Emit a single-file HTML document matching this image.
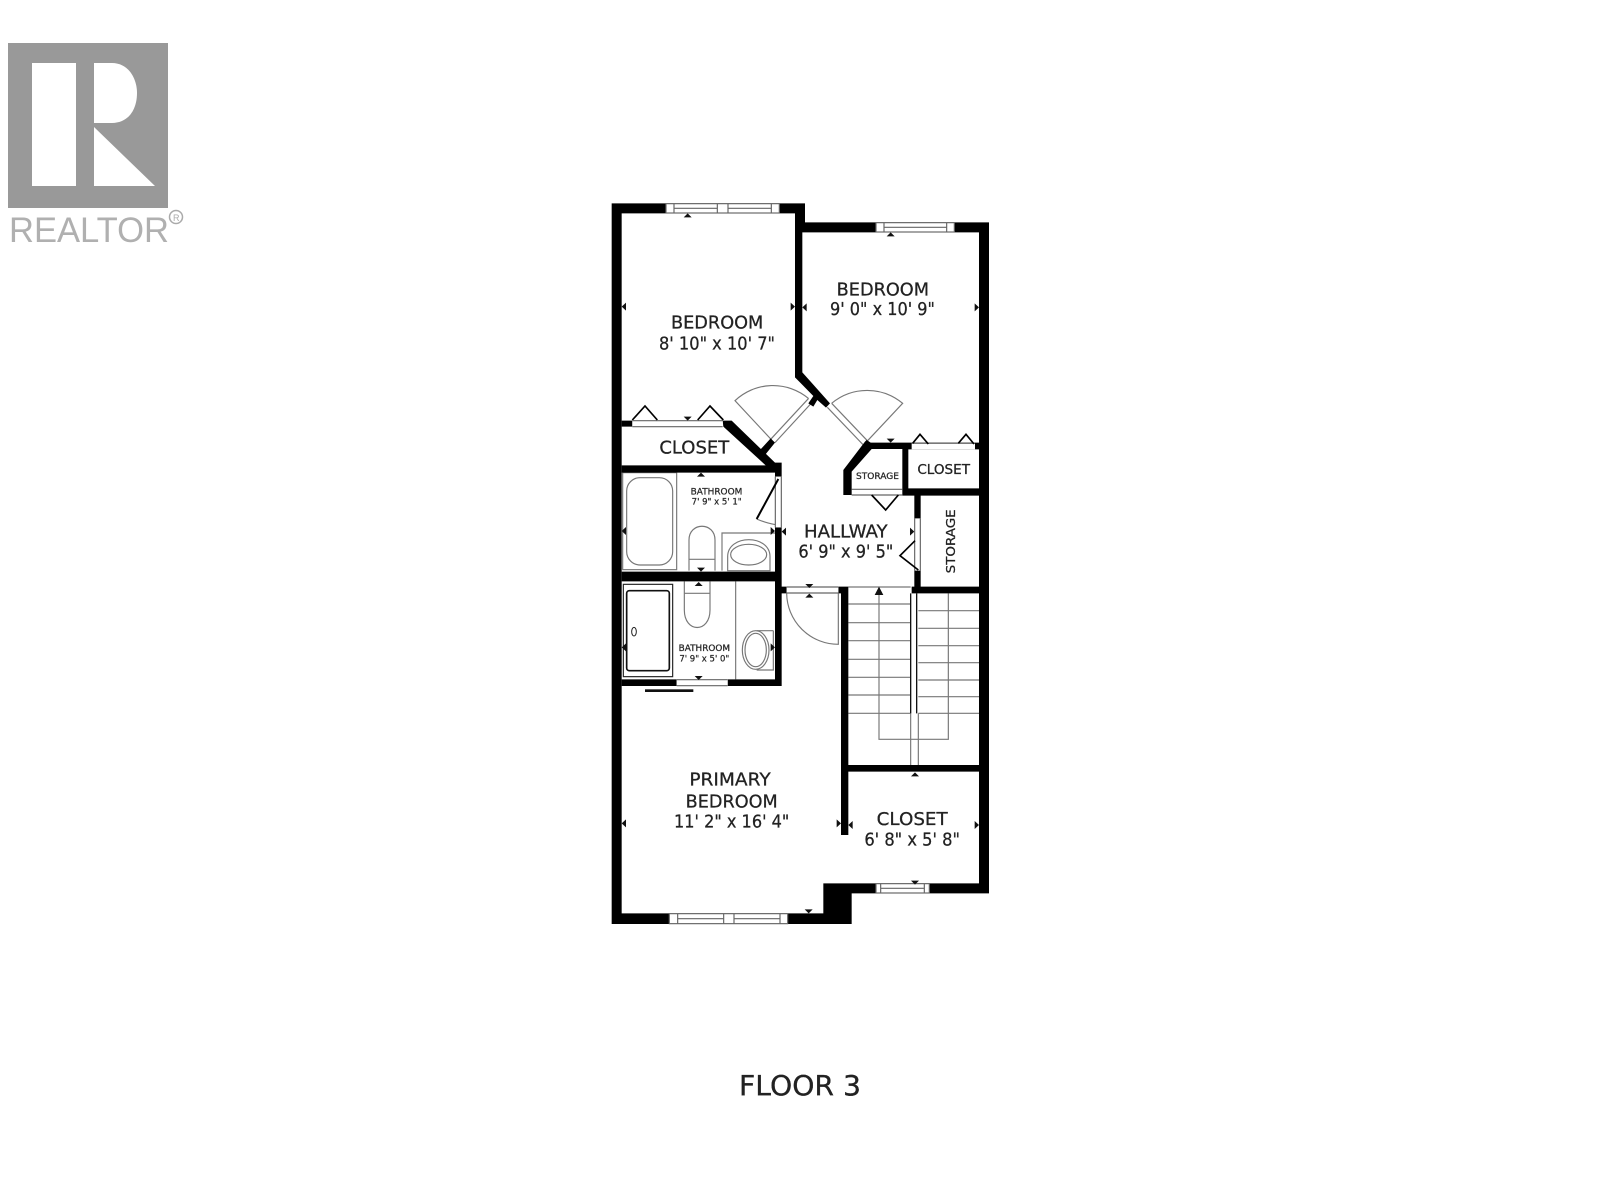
<!DOCTYPE html>
<html>
<head>
<meta charset="utf-8">
<style>
html,body{margin:0;padding:0;background:#fff;width:1600px;height:1200px;overflow:hidden}
svg{display:block;filter:blur(.35px)}
text{font-family:"DejaVu Sans","Liberation Sans",sans-serif;fill:#222}
</style>
</head>
<body>
<svg width="1600" height="1200" viewBox="0 0 1600 1200" xmlns="http://www.w3.org/2000/svg">
<rect width="1600" height="1200" fill="#fff"/>

<!-- logo -->
<rect x="8" y="43" width="160" height="165" fill="#999"/>
<rect x="32" y="63" width="44" height="123" fill="#fff"/>
<path d="M94 63H112C128 63 137 78 137 93C137 110 128 123 112 123H94Z" fill="#fff"/>
<path d="M94 127L155 186H94Z" fill="#fff"/>
<text x="9" y="242" font-size="35" textLength="160" lengthAdjust="spacingAndGlyphs" style="font-family:'Liberation Sans',sans-serif;fill:#b0b0b0">REALTOR</text>
<circle cx="176" cy="217" r="6.5" fill="none" stroke="#aaa" stroke-width="1.5"/>
<text x="173" y="221" font-size="9" style="font-family:'Liberation Sans',sans-serif;fill:#aaa">R</text>

<g transform="translate(600,190) scale(.33333)">
<!-- fixtures and thin lines -->
<g fill="none" stroke="#777" stroke-width="3.5">
  <!-- doors -->
  <path d="M515 750L405 632A166 166 0 0 1 625 625"/>
  <path d="M800 755L908 640A166 166 0 0 0 695 640"/>
  <path d="M560 1210A155 155 0 0 0 715 1363V1210"/>
  <path d="M470 987Q500 1000 527 1004"/>
  <path d="M626 625L512 748M640 633L525 758"/>
  <path d="M682 652L790 765M695 640L802 752"/>
  <!-- tub -->
  <rect x="68" y="848" width="162" height="291"/>
  <rect x="80" y="863" width="138" height="262" rx="40" ry="40"/>
  <!-- toilet 1 -->
  <path d="M267 1142V1050C267 995 345 995 345 1050V1142M267 1108H345"/>
  <!-- sink 1 -->
  <path d="M366 1142V1029H525"/>
  <path d="M383 1142V1100C383 1032 510 1032 510 1100V1142Z"/>
  <ellipse cx="446" cy="1094" rx="54" ry="31"/>
  <!-- toilet 2 -->
  <path d="M253 1174V1260C253 1330 330 1330 330 1260V1174M253 1210H330"/>
  <!-- divider -->
  <path d="M407 1174V1468"/>
  <!-- sink 2 -->
  <path d="M520 1322H470M520 1322V1440H470"/>
  <ellipse cx="467" cy="1380" rx="40" ry="58"/>
  <ellipse cx="467" cy="1380" rx="32" ry="50"/>
  <!-- stairs -->
  <path d="M745 1191H932"/>
  <path d="M745 1242H932M745 1298H932M745 1352H932M745 1408H932M745 1462H932M745 1515H932M745 1570H932"/>
  <path d="M955 1262H1137M955 1315H1137M955 1367H1137M955 1418H1137M955 1470H1137M955 1520H1137M955 1570H1137"/>
  <path d="M837 1210V1648H1045V1210"/>
  <path d="M932 1570V1725M955 1570V1725"/>
</g>
<rect x="70" y="1183" width="148" height="277" fill="none" stroke="#222" stroke-width="3.5"/>
<rect x="80" y="1202" width="128" height="240" rx="8" fill="none" stroke="#111" stroke-width="5"/>
<ellipse cx="102" cy="1325" rx="7" ry="13" fill="none" stroke="#222" stroke-width="3"/>
<path d="M932 1210V1570M950 1210V1570" stroke="#111" stroke-width="4" fill="none"/>
<rect x="135" y="1498" width="145" height="8" fill="#111"/>

<!-- outer walls -->
<path fill="#000" fill-rule="evenodd" d="
M35 40H615V97H1167V2110H755V2202H35Z
M65 70V2170H670V2080H1137V127H585V70Z"/>
<!-- inner walls -->
<path fill="#000" d="
M585 70H607V547L690 640L678 653L652 630L640 650L625 640L640 618L585 562Z
M65 692H97V710H65Z
M368 692H395L525 818H545V860H525V848H65V826H497L370 710Z
M480 780L512 745L525 758L495 795Z
M525 1012H545V1488H383V1468H525V1174H65V1145H525Z
M65 1468H230V1488H65Z
M545 1190H560V1210H545Z
M715 1190H745V1935H723V1210H715Z
M745 1725H1137V1745H745Z
M907 895H1137V917H962V985H943V917H907Z
M943 1142H962V1190H1137V1210H935V1190H943Z
M800 750L812 758H935V778H925V915H907V777H815L755 845V915H730V840L795 755Z
M925 758H1137V778H925Z"/>

<!-- white gaps -->
<g fill="#fff">
  <rect x="198" y="40" width="340" height="30"/>
  <rect x="828" y="97" width="235" height="30"/>
  <rect x="208" y="2170" width="355" height="32"/>
  <rect x="828" y="2080" width="160" height="30"/>
  <rect x="97" y="692" width="271" height="18"/>
  <rect x="935" y="760" width="190" height="18"/>
  <rect x="230" y="1468" width="153" height="20"/>
  <rect x="560" y="1190" width="155" height="20"/>
  <rect x="525" y="860" width="20" height="152"/>
</g>
<!-- windows -->
<g fill="none" stroke="#666" stroke-width="3.5">
  <rect x="198" y="41" width="340" height="28"/>
  <path d="M222 41V69M352 41V69M384 41V69M514 41V69M222 55H352M384 55H514"/>
  <rect x="828" y="98" width="235" height="28"/>
  <path d="M852 98V126M1040 98V126M852 112H1040"/>
  <rect x="208" y="2171" width="355" height="30"/>
  <path d="M233 2171V2201M371 2171V2201M402 2171V2201M540 2171V2201M233 2186H371M402 2186H540"/>
  <rect x="828" y="2081" width="160" height="28"/>
  <path d="M842 2081V2109M973 2081V2109M842 2095H973"/>
  <path d="M97 692H368M97 710H368"/>
  <path d="M935 760H1125"/>
  <path d="M755 898H907M755 915H907"/>
  <path d="M230 1469H383M230 1487H383"/>
  <path d="M560 1191H715M560 1209H715"/>
  <path d="M944 985V1142M961 985V1142"/>
  <path d="M526 860V1012M544 860V1012"/>
</g>
<!-- closet / door leaves -->
<g fill="none" stroke="#000" stroke-width="5">
  <path d="M97 690L135 648L172 690M293 690L330 648L370 690"/>
  <path d="M938 760L960 733L985 762M1075 760L1098 733L1122 762"/>
  <path d="M815 915L857 960L895 915"/>
  <path d="M945 1052L900 1097L955 1140"/>
  <path d="M535 867L470 987" stroke-width="6"/>
</g>
<!-- dimension ticks -->
<path fill="#111" d="
M263 70l-12 12h24zM872 127l-12 12h24zM303 848l-12 12h24zM296 1176l-12 12h24zM628 1211l-12 12h24zM945 1747l-12 12h24z
M263 692l-12 -12h24zM872 758l-12 -12h24zM303 1145l-12 -12h24zM296 1470l-12 -12h24zM628 1194l-12 -12h24zM626 2170l-12 -12h24zM945 2084l-12 -12h24z
M65 350l13 -12v24zM607 352l13 -12v24zM65 1023l13 -12v24zM65 1372l13 -12v24zM545 1025l13 -12v24zM65 1900l13 -12v24zM745 1905l13 -12v24z
M585 350l-13 -12v24zM1137 352l-13 -12v24zM525 1023l-13 -12v24zM525 1372l-13 -12v24zM943 1025l-13 -12v24zM723 1900l-13 -12v24zM1137 1905l-13 -12v24z
M837 1190l-13 25h26z"/>

<!-- labels -->
<g font-size="53" stroke="#222" stroke-width=".8">
  <text x="213" y="415" textLength="277" lengthAdjust="spacingAndGlyphs">BEDROOM</text>
  <text x="177" y="478" textLength="348" lengthAdjust="spacingAndGlyphs">8' 10" x 10' 7"</text>
  <text x="710" y="317" textLength="277" lengthAdjust="spacingAndGlyphs">BEDROOM</text>
  <text x="690" y="375" textLength="315" lengthAdjust="spacingAndGlyphs">9' 0" x 10' 9"</text>
  <text x="178" y="790" textLength="210" lengthAdjust="spacingAndGlyphs">CLOSET</text>
  <text x="612" y="1042" textLength="251" lengthAdjust="spacingAndGlyphs">HALLWAY</text>
  <text x="595" y="1103" textLength="285" lengthAdjust="spacingAndGlyphs">6' 9" x 9' 5"</text>
  <text x="268" y="1787" textLength="244" lengthAdjust="spacingAndGlyphs">PRIMARY</text>
  <text x="257" y="1852" textLength="276" lengthAdjust="spacingAndGlyphs">BEDROOM</text>
  <text x="222" y="1912" textLength="346" lengthAdjust="spacingAndGlyphs">11' 2" x 16' 4"</text>
  <text x="830" y="1905" textLength="213" lengthAdjust="spacingAndGlyphs">CLOSET</text>
  <text x="793" y="1967" textLength="287" lengthAdjust="spacingAndGlyphs">6' 8" x 5' 8"</text>
</g>
<text x="952" y="852" font-size="40" textLength="158" lengthAdjust="spacingAndGlyphs" stroke="#222" stroke-width=".8">CLOSET</text>
<g font-size="26" stroke="#333" stroke-width=".8">
  <text x="768" y="867" textLength="129" lengthAdjust="spacingAndGlyphs">STORAGE</text>
  <text x="272" y="913" textLength="155" lengthAdjust="spacingAndGlyphs">BATHROOM</text>
  <text x="275" y="943" textLength="150" lengthAdjust="spacingAndGlyphs">7' 9" x 5' 1"</text>
  <text x="236" y="1383" textLength="154" lengthAdjust="spacingAndGlyphs">BATHROOM</text>
  <text x="238" y="1415" textLength="150" lengthAdjust="spacingAndGlyphs">7' 9" x 5' 0"</text>
</g>
<text transform="translate(1065,1150) rotate(-90)" font-size="38" textLength="192" lengthAdjust="spacingAndGlyphs" stroke="#222" stroke-width=".8">STORAGE</text>
</g>

<text x="739" y="1095" font-size="28" textLength="122" lengthAdjust="spacingAndGlyphs" stroke="#222" stroke-width=".3">FLOOR 3</text>
</svg>
</body>
</html>
